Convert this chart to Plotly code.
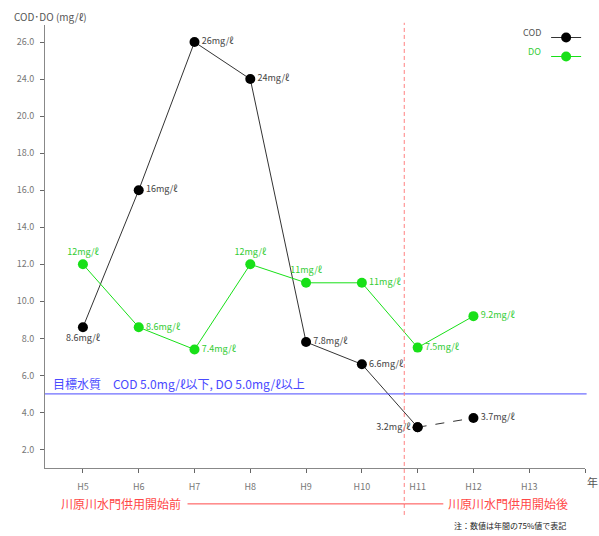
import plotly.graph_objects as go

# ---- data ----
years = ["H5", "H6", "H7", "H8", "H9", "H10", "H11", "H12", "H13"]
cod = [8.6, 16, 26, 24, 7.8, 6.6, 3.2, 3.7]
do = [12, 8.6, 7.4, 12, 11, 11, 7.5, 9.2]
cod_labels = ["8.6mg/ℓ", "16mg/ℓ", "26mg/ℓ", "24mg/ℓ", "7.8mg/ℓ", "6.6mg/ℓ", "3.2mg/ℓ", "3.7mg/ℓ"]
do_labels = ["12mg/ℓ", "8.6mg/ℓ", "7.4mg/ℓ", "12mg/ℓ", "11mg/ℓ", "11mg/ℓ", "7.5mg/ℓ", "9.2mg/ℓ"]
y_tick_labels = [2, 4, 6, 8, 10, 12, 14, 16, 18, 20, 24, 26]
target = 5.0
gate_opened_between = (5, 6)   # between H10 and H11

FONT = "Noto Sans CJK JP, Noto Sans, sans-serif"
GREEN = "#18e018"
GREEN_TXT = "#33cc33"
RED = "#ff4848"
BLUE = "#4a4aff"


# broken y axis (20 -> 24 is compressed, as in the original chart)
def ypos(v):
    if v <= 20:
        return v
    if v >= 24:
        return v - 2
    return 20 + (v - 20) / 2


xi = list(range(len(years)))
cod_y = [ypos(v) for v in cod]
do_y = [ypos(v) for v in do]

cod_pos = ["bottom center", "middle right", "middle right", "middle right",
           "middle right", "middle right", "middle left", "middle right"]
do_pos = ["top center", "middle right", "middle right", "top center",
          "top center", "middle right", "middle right", "middle right"]

fig = go.Figure()

fig.add_trace(go.Scatter(
    x=xi[:7], y=cod_y[:7], mode="lines+markers+text", name=" ",
    line=dict(color="#333333", width=1),
    marker=dict(color="black", size=10),
    text=cod_labels[:7], textposition=cod_pos[:7],
    textfont=dict(size=9, color="#444444", family=FONT),
    customdata=cod[:7], hovertemplate="COD %{customdata}<extra></extra>",
))
fig.add_trace(go.Scatter(
    x=xi[6:8], y=cod_y[6:8], mode="lines+markers+text", showlegend=False,
    line=dict(color="#333333", width=1, dash="dash"),
    marker=dict(color="black", size=10),
    text=[""] + cod_labels[7:8], textposition=cod_pos[6:8],
    textfont=dict(size=9, color="#444444", family=FONT),
    customdata=cod[6:8], hovertemplate="COD %{customdata}<extra></extra>",
))
fig.add_trace(go.Scatter(
    x=xi[:8], y=do_y, mode="lines+markers+text", name="  ",
    line=dict(color=GREEN, width=1),
    marker=dict(color=GREEN, size=10),
    text=do_labels, textposition=do_pos,
    textfont=dict(size=9, color=GREEN_TXT, family=FONT),
    customdata=do, hovertemplate="DO %{customdata}<extra></extra>",
))

# target line
fig.add_shape(type="line", xref="paper", x0=0, x1=1.003, yref="y",
              y0=ypos(target), y1=ypos(target), line=dict(color=BLUE, width=1))
fig.add_annotation(xref="paper", x=0.011, yref="y", y=ypos(target), yshift=0,
                   xanchor="left", yanchor="bottom", showarrow=False,
                   text="目標水質　COD 5.0mg/ℓ以下, DO 5.0mg/ℓ以上",
                   font=dict(size=12, color=BLUE, family=FONT))

# gate line
gx = gate_opened_between[0] + 0.76
fig.add_shape(type="line", x0=gx, x1=gx, yref="paper", y0=-0.106, y1=1.005,
              line=dict(color="#ff8080", width=1, dash="4px,3px"))
fig.add_shape(type="line", x0=1.875, x1=gx, yref="paper", y0=-0.081, y1=-0.081,
              line=dict(color=RED, width=1))
fig.add_shape(type="line", x0=gx, x1=6.46, yref="paper", y0=-0.081, y1=-0.081,
              line=dict(color=RED, width=1))
fig.add_annotation(x=1.80, yref="paper", y=-0.081, xanchor="right", yanchor="middle",
                   showarrow=False, text="川原川水門供用開始前",
                   font=dict(size=12, color=RED, family=FONT))
fig.add_annotation(x=6.50, yref="paper", y=-0.081, xanchor="left", yanchor="middle",
                   showarrow=False, text="川原川水門供用開始後",
                   font=dict(size=12, color=RED, family=FONT))

# texts
fig.add_annotation(xref="paper", x=-0.062, yref="paper", y=1.02, xanchor="left",
                   yanchor="middle", showarrow=False, text="COD･DO (mg/ℓ)",
                   font=dict(size=10, color="#555555", family=FONT))
fig.add_annotation(xref="paper", x=1.013, yref="paper", y=-0.032, xanchor="center",
                   yanchor="middle", showarrow=False, text="年",
                   font=dict(size=11, color="#555555", family=FONT))
fig.add_annotation(xref="paper", x=0.753, yref="paper", y=-0.13, xanchor="left",
                   yanchor="middle", showarrow=False, text="注：数値は年間の75%値で表記",
                   font=dict(size=8, color="#222222", family=FONT))
fig.add_annotation(xref="paper", x=0.922, yref="paper", y=0.982, xanchor="right",
                   yanchor="middle", showarrow=False, text="COD",
                   font=dict(size=9, color="#555555", family=FONT))
fig.add_annotation(xref="paper", x=0.922, yref="paper", y=0.941, xanchor="right",
                   yanchor="middle", showarrow=False, text="DO",
                   font=dict(size=9, color=GREEN_TXT, family=FONT))

fig.update_layout(
    width=599, height=536,
    margin=dict(l=45, r=14, t=25, b=68, autoexpand=False),
    paper_bgcolor="white", plot_bgcolor="white",
    font=dict(family=FONT, size=9, color="#666666"),
    showlegend=True,
    legend=dict(x=0.928, y=1.0045, xanchor="left", yanchor="top",
                bgcolor="rgba(0,0,0,0)", font=dict(size=9), tracegroupgap=0,
                itemwidth=30),
    hovermode="closest",
)
fig.update_xaxes(
    range=[-0.68, 9.0], tickmode="array",
    tickvals=list(range(len(years) + 1)), ticktext=years + [""],
    showgrid=False, zeroline=False, showline=True, linecolor="#888888", linewidth=1,
    ticks="outside", ticklen=4, tickcolor="#666666", ticklabelstandoff=6,
    tickfont=dict(size=9, color="#777777"), automargin=False,
)
fig.update_yaxes(
    range=[1.0, 24.92], tickmode="array",
    tickvals=[ypos(t) for t in y_tick_labels],
    ticktext=[f"{t:.1f}" for t in y_tick_labels],
    showgrid=False, zeroline=False, showline=True, linecolor="#888888", linewidth=1,
    ticks="outside", ticklen=4, tickcolor="#666666", ticklabelstandoff=4,
    tickfont=dict(size=9, color="#777777"), automargin=False,
)

fig.write_html(
    "out.html",
    config={"displayModeBar": False},
    post_script="document.body.style.margin='0';document.body.style.overflow='hidden';",
)
